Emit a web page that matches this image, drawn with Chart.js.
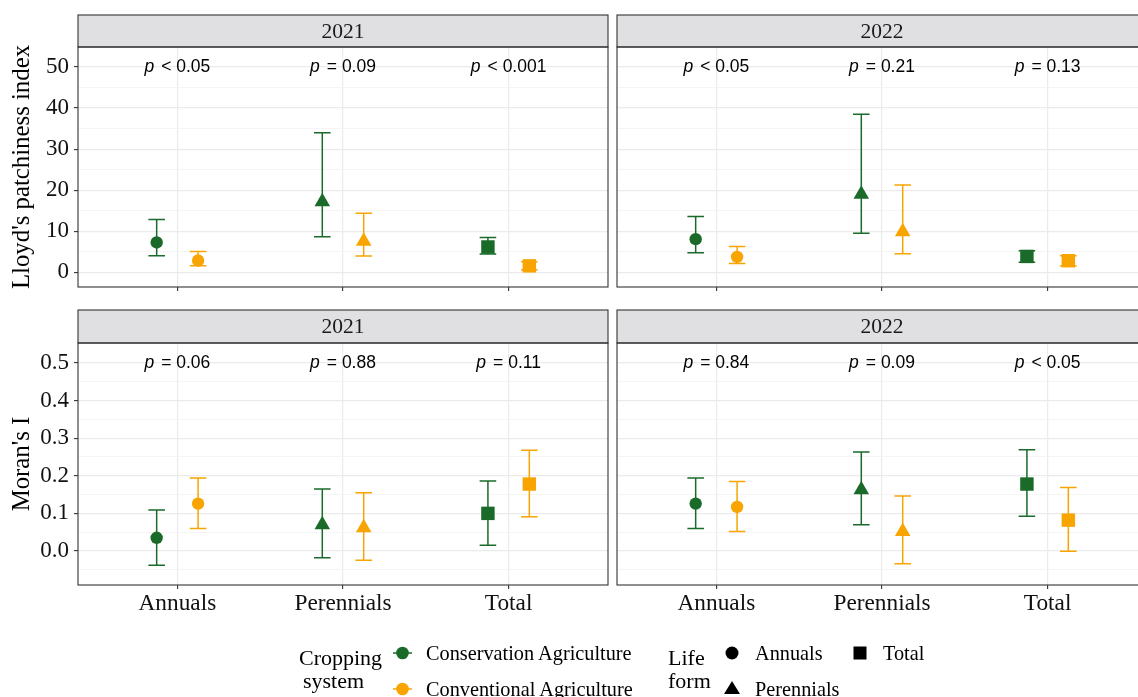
<!DOCTYPE html>
<html>
<head>
<meta charset="utf-8">
<script src="https://cdn.jsdelivr.net/npm/chart.js@4.4.0/dist/chart.umd.min.js"></script>
<style>
    body { margin: 0; background: #fff; }
    #wrap { position: relative; width: 1138px; height: 697px; overflow: hidden; background: #fff; }
    #wrap canvas { position: absolute; }
    #legend { position: absolute; left: 0; top: 0; }
</style>
</head>
<body>
<div id="wrap">
    <canvas id="lloyd2021" style="left:0px;top:0px;width:612px;height:300px" width="612" height="300"></canvas>
    <canvas id="lloyd2022" style="left:612px;top:0px;width:540px;height:300px" width="540" height="300"></canvas>
    <canvas id="moran2021" style="left:0px;top:300px;width:612px;height:330px" width="612" height="330"></canvas>
    <canvas id="moran2022" style="left:612px;top:300px;width:540px;height:330px" width="540" height="330"></canvas>

    <svg id="legend" width="1138" height="697" font-family="Liberation Serif, Times New Roman, serif">
        <text x="299" y="665" font-size="22">Cropping</text>
        <text x="303" y="688" font-size="22">system</text>
        <line x1="393" y1="653" x2="412" y2="653" stroke="#1a6b2a" stroke-width="1.5"/>
        <circle cx="402.5" cy="653" r="6.3" fill="#1a6b2a"/>
        <text x="426" y="659.5" font-size="20.3">Conservation Agriculture</text>
        <line x1="393" y1="689" x2="412" y2="689" stroke="#f8a501" stroke-width="1.5"/>
        <circle cx="402.5" cy="689" r="6.3" fill="#f8a501"/>
        <text x="426" y="696" font-size="20.3">Conventional Agriculture</text>

        <text x="668" y="665" font-size="22">Life</text>
        <text x="668" y="688" font-size="22">form</text>
        <circle cx="732" cy="653" r="6.5" fill="#000"/>
        <text x="755" y="659.5" font-size="20.3">Annuals</text>
        <polygon points="732,681 740,694 724,694" fill="#000"/>
        <text x="755" y="696" font-size="20.3">Perennials</text>
        <rect x="853.5" y="646.5" width="13" height="13" fill="#000"/>
        <text x="883" y="659.5" font-size="20.3">Total</text>
    </svg>
</div>

<script>
// categories
const lifeForms = ['Annuals', 'Perennials', 'Total'];
const systems = ['Conservation Agriculture', 'Conventional Agriculture'];
const years = ['2021', '2022'];

// Lloyd's patchiness index (mean, lower, upper) per life form
const lloyd2021CA = [7.3, 17.2, 6.2];
const lloyd2021CALo = [4.05, 8.7, 4.5];
const lloyd2021CAHi = [12.9, 34.0, 8.5];
const lloyd2021CV = [2.9, 7.6, 1.6];
const lloyd2021CVLo = [1.6, 4.0, 0.65];
const lloyd2021CVHi = [5.1, 14.4, 2.6];

const lloyd2022CA = [8.1, 19.0, 3.9];
const lloyd2022CALo = [4.8, 9.55, 2.5];
const lloyd2022CAHi = [13.6, 38.5, 5.3];
const lloyd2022CV = [3.8, 9.9, 2.85];
const lloyd2022CVLo = [2.2, 4.55, 1.55];
const lloyd2022CVHi = [6.3, 21.3, 4.05];

// Moran's I
const moran2021CA = [0.035, 0.07, 0.10];
const moran2021CALo = [-0.038, -0.018, 0.015];
const moran2021CAHi = [0.109, 0.165, 0.186];
const moran2021CV = [0.126, 0.062, 0.178];
const moran2021CVLo = [0.06, -0.025, 0.091];
const moran2021CVHi = [0.194, 0.155, 0.268];

const moran2022CA = [0.126, 0.163, 0.178];
const moran2022CALo = [0.06, 0.07, 0.092];
const moran2022CAHi = [0.194, 0.263, 0.269];
const moran2022CV = [0.117, 0.052, 0.082];
const moran2022CVLo = [0.052, -0.034, -0.001];
const moran2022CVHi = [0.185, 0.146, 0.169];

// p-value labels
const lloydP2021 = ['< 0.05', '= 0.09', '< 0.001'];
const lloydP2022 = ['< 0.05', '= 0.21', '= 0.13'];
const moranP2021 = ['= 0.06', '= 0.88', '= 0.11'];
const moranP2022 = ['= 0.84', '= 0.09', '< 0.05'];
const lloydLabelY = 50;
const moranLabelY = 0.5;

// ticks
const lloydTicks = [0, 10, 20, 30, 40, 50];
const lloydMinor = [5, 15, 25, 35, 45];
const lloydRange = [-3.54, 54.85];
const moranTicks = [0, 0.1, 0.2, 0.3, 0.4, 0.5];
const moranMinor = [-0.05, 0.05, 0.15, 0.25, 0.35, 0.45];
const moranRange = [-0.0906, 0.5533];
const xRange = [0.4, 3.6];

const colors = ['#1a6b2a', '#f8a501'];
const shapes = ['circle', 'triangle', 'rect'];
const radii = [6.2, 9, 9.5];
const dodge = 0.125;
const capHalf = 0.05;

const serif = 'Liberation Serif';
const sans = 'Liberation Sans';
const pFont = 17.5;

const isIn = (arr, v) => arr.some(m => Math.abs(m - v) < 1e-9);

const panelPlugin = {
    id: 'panel',
    beforeDatasetsDraw(chart, args, opts) {
        const {ctx, scales: {x, y}} = chart;
        // error bars
        chart.data.datasets.forEach((ds) => {
            ctx.save();
            ctx.strokeStyle = ds.borderColor;
            ctx.lineWidth = 1.5;
            ds.data.forEach((d) => {
                const px = x.getPixelForValue(d.x);
                const cw = x.getPixelForValue(d.x + capHalf) - px;
                const yl = y.getPixelForValue(d.lo);
                const yh = y.getPixelForValue(d.hi);
                ctx.beginPath();
                ctx.moveTo(px, yl); ctx.lineTo(px, yh);
                ctx.moveTo(px - cw, yl); ctx.lineTo(px + cw, yl);
                ctx.moveTo(px - cw, yh); ctx.lineTo(px + cw, yh);
                ctx.stroke();
            });
            ctx.restore();
        });
        // p labels
        ctx.save();
        ctx.fillStyle = '#000';
        ctx.textBaseline = 'middle';
        ctx.textAlign = 'left';
        opts.pLabels.forEach((t, i) => {
            const px = x.getPixelForValue(i + 1);
            const py = y.getPixelForValue(opts.labelY);
            ctx.font = 'italic ' + pFont + 'px ' + sans;
            const w1 = ctx.measureText('p').width + 7;
            ctx.font = pFont + 'px ' + sans;
            const w2 = ctx.measureText(t).width;
            const sx = px - (w1 + w2) / 2;
            ctx.font = 'italic ' + pFont + 'px ' + sans;
            ctx.fillText('p', sx, py);
            ctx.font = pFont + 'px ' + sans;
            ctx.fillText(t, sx + w1, py);
        });
        ctx.restore();
    },
    afterDraw(chart, args, opts) {
        const {ctx, chartArea: a} = chart;
        ctx.save();
        ctx.strokeStyle = '#333333';
        ctx.lineWidth = 1.1;
        ctx.fillStyle = '#e0dfe1';
        ctx.fillRect(a.left, opts.stripTop, a.right - a.left, a.top - opts.stripTop);
        ctx.strokeRect(a.left, opts.stripTop, a.right - a.left, a.top - opts.stripTop);
        ctx.strokeRect(a.left, a.top, a.right - a.left, a.bottom - a.top);
        ctx.fillStyle = '#1a1a1a';
        ctx.font = '21.5px ' + serif;
        ctx.textAlign = 'center';
        ctx.textBaseline = 'middle';
        ctx.fillText(opts.year, (a.left + a.right) / 2, (opts.stripTop + a.top) / 2 + 1);
        ctx.restore();
    }
};

function makePanel(id, p) {
    const datasets = systems.map((s, si) => ({
        label: s,
        data: lifeForms.map((lf, i) => ({
            x: i + 1 + (si === 0 ? -dodge : dodge),
            y: p.means[si][i],
            lo: p.lo[si][i],
            hi: p.hi[si][i]
        })),
        backgroundColor: colors[si],
        borderColor: colors[si],
        borderWidth: 0,
        pointStyle: shapes,
        pointRadius: radii,
        pointHoverRadius: radii
    }));

    return new Chart(document.getElementById(id), {
        type: 'scatter',
        data: { datasets },
        plugins: [panelPlugin],
        options: {
            responsive: false,
            animation: false,
            events: [],
            layout: { autoPadding: false, padding: { top: p.padTop, right: p.padRight, left: 0, bottom: 0 } },
            plugins: {
                legend: { display: false },
                tooltip: { enabled: false },
                panel: { pLabels: p.pLabels, labelY: p.labelY, stripTop: p.stripTop, year: p.year }
            },
            scales: {
                x: {
                    type: 'linear',
                    min: xRange[0],
                    max: xRange[1],
                    afterBuildTicks: (s) => { s.ticks = [1, 2, 3].map(v => ({ value: v })); },
                    afterFit: (s) => {
                        s.height = p.xHeight;
                        s.paddingLeft = 0; s.paddingRight = 0; s.paddingTop = 0; s.paddingBottom = 0;
                    },
                    border: { display: false },
                    grid: { color: '#ebebeb', lineWidth: 1.2, tickColor: '#333333', tickLength: 4, tickWidth: 1.1 },
                    ticks: {
                        display: p.showX,
                        autoSkip: false,
                        maxRotation: 0,
                        padding: 1,
                        color: '#111',
                        font: { family: serif, size: 23.3 },
                        callback: (v) => lifeForms[Math.round(v) - 1]
                    }
                },
                y: {
                    min: p.range[0],
                    max: p.range[1],
                    afterBuildTicks: (s) => {
                        s.ticks = p.major.concat(p.minor).sort((a, b) => a - b).map(v => ({ value: v }));
                    },
                    afterFit: (s) => {
                        s.width = p.yWidth;
                        s.paddingLeft = 0; s.paddingRight = 0; s.paddingTop = 0; s.paddingBottom = 0;
                    },
                    border: { display: false },
                    title: {
                        display: !!p.yTitle,
                        text: p.yTitle || '',
                        color: '#000',
                        font: { family: serif, size: 24.8 },
                        padding: { top: 8, bottom: 0 }
                    },
                    grid: {
                        drawTicks: p.showY,
                        tickLength: 4,
                        tickWidth: 1.1,
                        color: (c) => isIn(p.minor, c.tick.value) ? '#f2f2f2' : '#ebebeb',
                        lineWidth: (c) => isIn(p.minor, c.tick.value) ? 0.8 : 1.2,
                        tickColor: (c) => isIn(p.minor, c.tick.value) ? 'rgba(0,0,0,0)' : '#333333'
                    },
                    ticks: {
                        display: p.showY,
                        autoSkip: false,
                        padding: 5,
                        color: '#111',
                        font: { family: serif, size: 23 },
                        callback: (v) => isIn(p.major, v) ? p.fmt(v) : ''
                    }
                }
            }
        }
    });
}

const lloydFmt = (v) => String(v);
const moranFmt = (v) => v.toFixed(1);

makePanel('lloyd2021', {
    year: years[0], means: [lloyd2021CA, lloyd2021CV], lo: [lloyd2021CALo, lloyd2021CVLo], hi: [lloyd2021CAHi, lloyd2021CVHi],
    pLabels: lloydP2021, labelY: lloydLabelY, range: lloydRange, major: lloydTicks, minor: lloydMinor, fmt: lloydFmt,
    showX: false, showY: true, yTitle: "Lloyd's patchiness index",
    yWidth: 78, xHeight: 13, padTop: 47, padRight: 4, stripTop: 15
});
makePanel('lloyd2022', {
    year: years[1], means: [lloyd2022CA, lloyd2022CV], lo: [lloyd2022CALo, lloyd2022CVLo], hi: [lloyd2022CAHi, lloyd2022CVHi],
    pLabels: lloydP2022, labelY: lloydLabelY, range: lloydRange, major: lloydTicks, minor: lloydMinor, fmt: lloydFmt,
    showX: false, showY: false, yTitle: null,
    yWidth: 5, xHeight: 13, padTop: 47, padRight: 5, stripTop: 15
});
makePanel('moran2021', {
    year: years[0], means: [moran2021CA, moran2021CV], lo: [moran2021CALo, moran2021CVLo], hi: [moran2021CAHi, moran2021CVHi],
    pLabels: moranP2021, labelY: moranLabelY, range: moranRange, major: moranTicks, minor: moranMinor, fmt: moranFmt,
    showX: true, showY: true, yTitle: "Moran's I",
    yWidth: 78, xHeight: 45, padTop: 43, padRight: 4, stripTop: 10
});
makePanel('moran2022', {
    year: years[1], means: [moran2022CA, moran2022CV], lo: [moran2022CALo, moran2022CVLo], hi: [moran2022CAHi, moran2022CVHi],
    pLabels: moranP2022, labelY: moranLabelY, range: moranRange, major: moranTicks, minor: moranMinor, fmt: moranFmt,
    showX: true, showY: false, yTitle: null,
    yWidth: 5, xHeight: 45, padTop: 43, padRight: 5, stripTop: 10
});
</script>
</body>
</html>
